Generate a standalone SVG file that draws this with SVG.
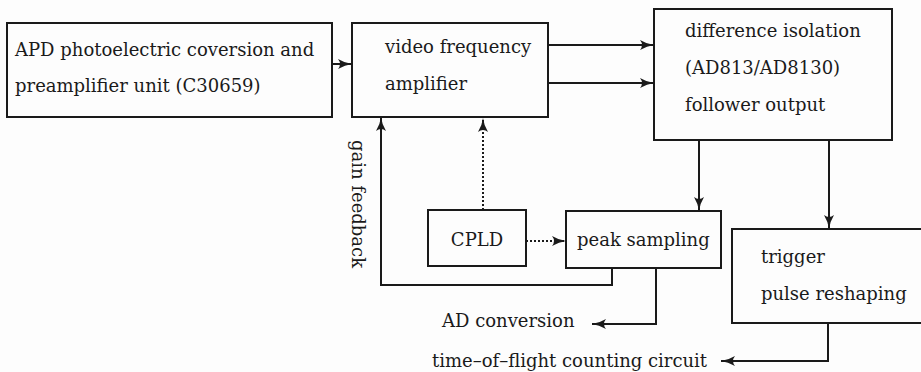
<svg xmlns="http://www.w3.org/2000/svg" width="921" height="372" viewBox="0 0 921 372">
<style>
.box{fill:none;stroke:#1a1a1a;stroke-width:2}
.ln{fill:none;stroke:#1a1a1a;stroke-width:2}
.dot{fill:none;stroke:#1a1a1a;stroke-width:2;stroke-dasharray:2 2}
text{font-family:"DejaVu Serif","Liberation Serif",serif;font-size:18px;fill:#1a1a1a}
</style>
<defs>
<marker id="ah" viewBox="0 0 14 10" refX="14" refY="5" markerWidth="14" markerHeight="10" markerUnits="userSpaceOnUse" orient="auto">
<path d="M0,0 Q7,4.2 14,5 Q7,5.8 0,10 Q4,5 0,0 Z" fill="#1a1a1a"/>
</marker>
</defs>
<rect width="921" height="372" fill="#fdfdfd"/>
<g id="apd">
<rect class="box" x="7" y="23" width="325" height="94"/>
<text x="15" y="56">APD photoelectric coversion and</text>
<text x="15" y="92">preamplifier unit (C30659)</text>
</g>
<g id="vfa">
<rect class="box" x="352" y="23" width="196" height="94"/>
<text x="385" y="53">video frequency</text>
<text x="385" y="90">amplifier</text>
</g>
<g id="diff">
<rect class="box" x="654" y="9" width="238" height="131"/>
<text x="685" y="37">difference isolation</text>
<text x="685" y="74">(AD813/AD8130)</text>
<text x="685" y="111">follower output</text>
</g>
<g id="cpld">
<rect class="box" x="428" y="210" width="98" height="56"/>
<text x="477" y="246" text-anchor="middle">CPLD</text>
</g>
<g id="peak">
<rect class="box" x="566" y="211" width="155" height="57"/>
<text x="577" y="246">peak sampling</text>
</g>
<g id="trigger">
<rect class="box" x="732" y="229" width="200" height="94"/>
<text x="761" y="263">trigger</text>
<text x="761" y="300">pulse reshaping</text>
</g>
<g id="connectors">
<path class="ln" d="M332,64 H352" marker-end="url(#ah)"/>
<path class="ln" d="M548,45 H654" marker-end="url(#ah)"/>
<path class="ln" d="M548,83 H654" marker-end="url(#ah)"/>
<path class="ln" d="M699,140 V211" marker-end="url(#ah)"/>
<path class="ln" d="M829,140 V229" marker-end="url(#ah)"/>
<path class="dot" d="M483,210 V118" marker-end="url(#ah)"/>
<path class="dot" d="M526,241 H566" marker-end="url(#ah)"/>
<path class="ln" d="M612,268 V285 H381 V117" marker-end="url(#ah)"/>
<path class="ln" d="M656,268 V324 H592" marker-end="url(#ah)"/>
<path class="ln" d="M828,323 V361 H721" marker-end="url(#ah)"/>
</g>
<g id="labels">
<text transform="translate(351.5,140) rotate(90)">gain feedback</text>
<text x="442" y="327">AD conversion</text>
<text x="432" y="367">time–of–flight counting circuit</text>
</g>
</svg>
